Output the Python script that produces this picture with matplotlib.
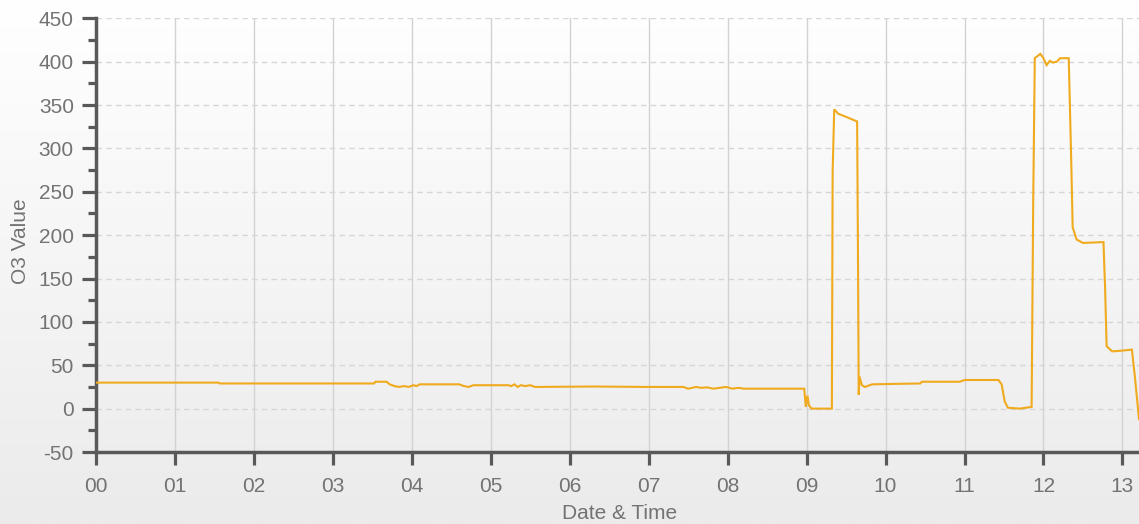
import numpy as np
import matplotlib
matplotlib.use("Agg")
import matplotlib.pyplot as plt
from matplotlib.ticker import MultipleLocator, FixedLocator
from matplotlib.colors import LinearSegmentedColormap

plt.rcParams['font.family'] = ['Liberation Sans', 'DejaVu Sans']
plt.rcParams['axes.unicode_minus'] = False

# O3 readings: hour of day and measured value
hours = [0.00, 0.80, 1.55, 1.57, 2.30, 3.10, 3.52, 3.54, 3.68, 3.72, 3.78, 3.84,
         3.90, 3.96, 4.02, 4.06, 4.10, 4.60, 4.66, 4.72, 4.78, 5.00, 5.22, 5.26,
         5.30, 5.34, 5.38, 5.44, 5.50, 5.56, 6.30, 7.00, 7.44, 7.50, 7.60, 7.66,
         7.74, 7.82, 7.90, 7.98, 8.06, 8.14, 8.20, 8.60, 8.97, 8.99, 9.01, 9.03,
         9.06, 9.20, 9.32, 9.33, 9.35, 9.40, 9.51, 9.64, 9.65, 9.66, 9.67, 9.70,
         9.74, 9.83, 10.10, 10.44, 10.46, 10.94, 11.00, 11.43, 11.47, 11.51, 11.55,
         11.70, 11.85, 11.87, 11.89, 11.96, 12.00, 12.04, 12.08, 12.12, 12.17,
         12.21, 12.32, 12.35, 12.37, 12.42, 12.50, 12.76, 12.78, 12.80, 12.87,
         13.01, 13.12, 13.16, 13.21]
o3 = [30, 30, 30, 29, 29, 29, 29, 31, 31, 28, 26, 25,
      26, 25, 27, 26, 28, 28, 26, 25, 27, 27, 27, 26,
      28, 25, 27, 26, 27, 25, 25.5, 25, 25, 23, 25, 24,
      24.5, 23, 24, 25, 23, 24, 23, 23, 23, 2, 15, 4,
      0, 0, 0, 274, 345, 340, 336, 331, 189, 16, 37, 27,
      25, 28, 28.5, 29, 31, 31, 33, 33, 28, 8, 1,
      0, 2, 237, 404, 409, 404, 396, 401, 399, 400,
      404, 404, 292, 209, 195, 191, 192, 141, 72, 66,
      67, 68, 35, -12]

hour_ticks = list(range(0, 14))
hour_labels = [f"{h:02d}" for h in hour_ticks]

W, H = 1139, 524
fig = plt.figure(figsize=(W / 100, H / 100), dpi=100)

# soft vertical gradient behind everything
bg = fig.add_axes([0, 0, 1, 1], zorder=-10)
cmap = LinearSegmentedColormap.from_list("bg", ["#ffffff", "#ebebeb"])
bg.imshow(np.linspace(0, 1, 256).reshape(-1, 1), aspect="auto", cmap=cmap,
          extent=[0, 1, 0, 1], origin="upper")
bg.axis("off")

left = 96 / W
bottom = (H - 452) / H
top = (H - 18.3) / H
ax = fig.add_axes([left, bottom, 1 - left, top - bottom])
ax.set_facecolor("none")

ax.plot(hours, o3, color="#f0aa1e", lw=1.5, zorder=3, solid_joinstyle="miter")

ax.set_xlim(0, 13.21)
ax.set_ylim(-50, 450)

ax.yaxis.set_major_locator(MultipleLocator(50))
ax.yaxis.set_minor_locator(MultipleLocator(25))
ax.xaxis.set_major_locator(FixedLocator(hour_ticks))
ax.set_xticklabels(hour_labels)

spine_col = "#595959"
for s in ("top", "right"):
    ax.spines[s].set_visible(False)
for s in ("left", "bottom"):
    ax.spines[s].set_color(spine_col)
    ax.spines[s].set_linewidth(2.5)

text_col = "#737373"
ax.tick_params(axis="y", which="major", length=10, width=2.3, color=spine_col,
               labelsize=15, labelcolor=text_col, pad=6)
ax.tick_params(axis="y", which="minor", length=6, width=2.3, color=spine_col)
ax.tick_params(axis="x", which="major", length=9, width=2.3, color=spine_col,
               labelsize=15, labelcolor=text_col, pad=9)

ax.grid(axis="x", color="#d2d2d2", lw=1.0, ls="-", zorder=0)
ax.grid(axis="y", color="#d6d6d6", lw=1.0, ls=(0, (4, 3)), zorder=0)

ax.set_xlabel("Date & Time", fontsize=15, color=text_col)
ax.set_ylabel("O3 Value", fontsize=15, color=text_col)
ax.xaxis.set_label_coords(0.502, -0.12)
ax.yaxis.set_label_coords(-0.063, 0.485)

fig.savefig("out.png", dpi=100)
